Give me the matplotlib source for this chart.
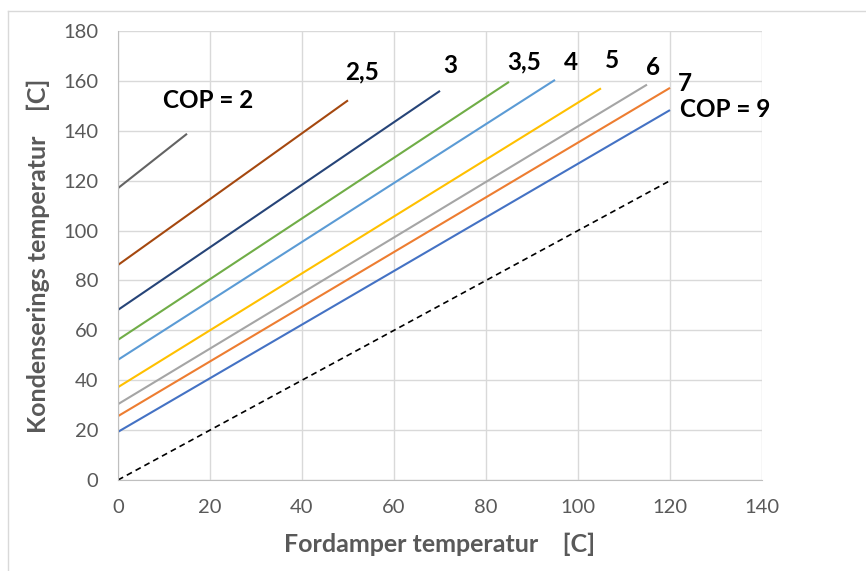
import matplotlib
matplotlib.use("Agg")
import matplotlib.pyplot as plt
from matplotlib.lines import Line2D

plt.rcParams['font.family'] = ['Lato', 'DejaVu Sans']

# COP curves: evaporator temperature (x) start/end and condensing temperature (y) start/end
cop_labels = ["COP = 2", "2,5", "3", "3,5", "4", "5", "6", "7", "COP = 9"]
x_start = [0, 0, 0, 0, 0, 0, 0, 0, 0]
x_end = [15, 50, 70, 85, 95, 105, 115, 120, 120]
y_start = [117, 86.2, 68.2, 56.2, 48.2, 37.2, 30.4, 25.6, 19.3]
y_end = [138.8, 152.2, 156, 159.6, 160.4, 157, 158.5, 157.2, 148.3]
colors = ["#636363", "#A5480F", "#264478", "#70AD47", "#5B9BD5",
          "#FFC000", "#A5A5A5", "#ED7D31", "#4472C4"]

# reference line (Tcond = Tevap)
ref_x = [0, 120]
ref_y = [0, 120]

x_ticks = [0, 20, 40, 60, 80, 100, 120, 140]
y_ticks = [0, 20, 40, 60, 80, 100, 120, 140, 160, 180]

fig = plt.figure(figsize=(8.66, 5.71), dpi=100)
ax = fig.add_axes([118/866, 1 - 480/571, (762 - 118)/866, (480 - 31)/571])

for xs, xe, ys, ye, c in zip(x_start, x_end, y_start, y_end, colors):
    ax.plot([xs, xe], [ys, ye], color=c, lw=1.5, solid_capstyle='butt')
ax.plot(ref_x, ref_y, color='black', lw=1.2, ls=(0, (3.5, 2.5)))

ax.set_xlim(0, 140)
ax.set_ylim(0, 180)
ax.set_xticks(x_ticks)
ax.set_yticks(y_ticks)
ax.grid(True, color='#D9D9D9', lw=1)
ax.set_axisbelow(True)
for s in ['top', 'right']:
    ax.spines[s].set_visible(False)
for s in ['left', 'bottom']:
    ax.spines[s].set_color('#BFBFBF')
ax.tick_params(length=0, labelsize=14.5, colors='#595959')
ax.tick_params(axis='x', pad=14)
ax.tick_params(axis='y', pad=14)

ax.set_xlabel("Fordamper temperatur    [C]", fontsize=18, fontweight='bold',
              color='#595959', labelpad=12)
ax.set_ylabel("Kondenserings temperatur    [C]", fontsize=18, fontweight='bold',
              color='#595959', labelpad=10)

# label positions (data coords)
label_pos = [(9.8, 152), (53, 163.5), (72.2, 166), (88.3, 167.5), (98.5, 167.5),
             (107.4, 168.3), (116.3, 165.5), (121.7, 159), (122.2, 148.7)]
label_ha = ['left', 'center', 'center', 'center', 'center', 'center', 'center', 'left', 'left']
for lab, (lx, ly), ha in zip(cop_labels, label_pos, label_ha):
    ax.text(lx, ly, lab, fontsize=17.5, fontweight='bold', color='black',
            ha=ha, va='center', clip_on=False)

# outer frame lines
fig.add_artist(Line2D([8/866, 8/866], [0, 1 - 11/571], transform=fig.transFigure,
                      color='#D9D9D9', lw=1))
fig.add_artist(Line2D([8/866, 1], [1 - 11/571, 1 - 11/571], transform=fig.transFigure,
                      color='#D9D9D9', lw=1))

fig.savefig("out.png", dpi=100)
